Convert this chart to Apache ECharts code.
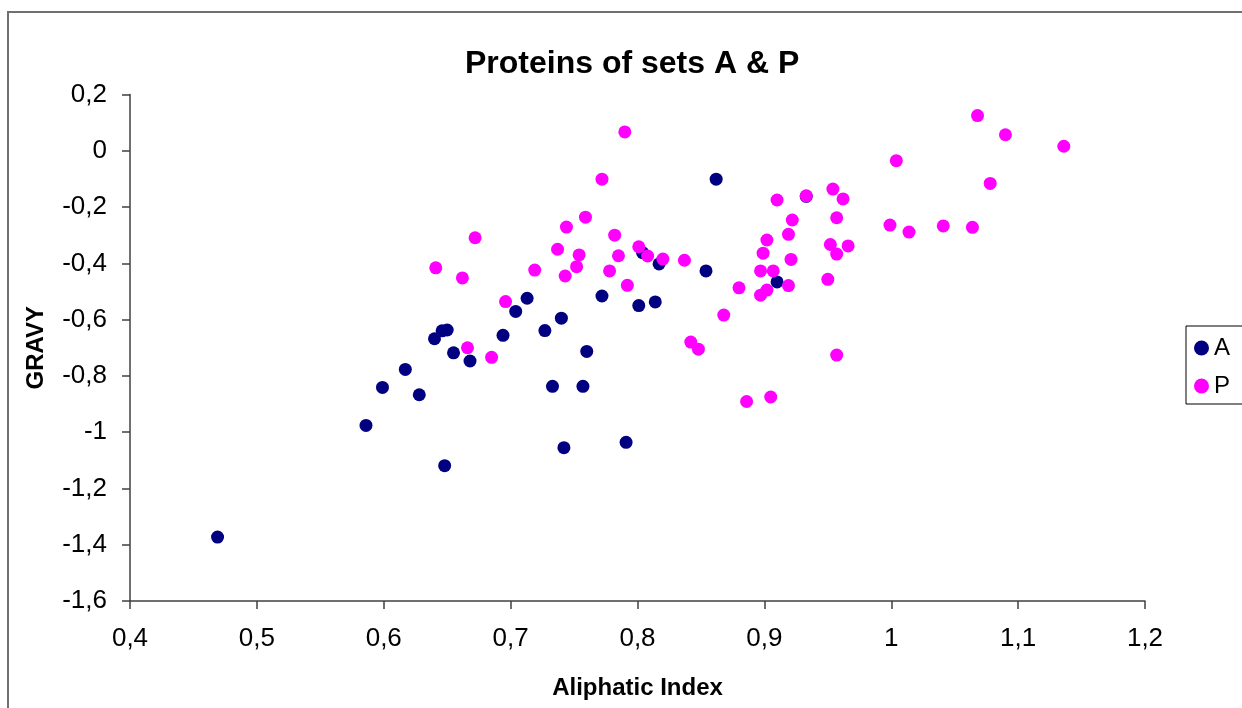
<!DOCTYPE html>
<html><head><meta charset="utf-8">
<script src="https://cdn.jsdelivr.net/npm/echarts@6/dist/echarts.min.js"></script>
<style>html,body{margin:0;padding:0;background:#fff}#c{width:1242px;height:708px}</style>
</head><body><div id="c"></div>
<script>
const seriesNames = ['A', 'P'];
const aX = [0.469,0.586,0.599,0.617,0.628,0.640,0.646,0.650,0.655,0.668,0.648,0.694,0.704,0.713,0.727,0.733,0.740,0.742,0.757,0.760,0.772,0.791,0.801,0.804,0.814,0.817,0.854,0.862,0.910,0.933];
const aY = [-1.373,-0.976,-0.841,-0.777,-0.867,-0.668,-0.640,-0.637,-0.718,-0.747,-1.119,-0.656,-0.571,-0.524,-0.639,-0.837,-0.595,-1.055,-0.837,-0.713,-0.516,-1.036,-0.550,-0.362,-0.537,-0.402,-0.427,-0.101,-0.466,-0.162];
const pX = [0.641,0.662,0.672,0.666,0.685,0.696,0.719,0.737,0.744,0.743,0.752,0.754,0.759,0.772,0.778,0.782,0.785,0.790,0.792,0.801,0.808,0.820,0.837,0.842,0.848,0.868,0.880,0.886,0.897,0.897,0.899,0.902,0.902,0.905,0.907,0.910,0.919,0.919,0.921,0.922,0.933,0.950,0.952,0.954,0.957,0.957,0.957,0.962,0.966,0.999,1.004,1.014,1.041,1.064,1.068,1.078,1.090,1.136];
const pY = [-0.416,-0.452,-0.309,-0.700,-0.734,-0.536,-0.424,-0.350,-0.271,-0.445,-0.412,-0.370,-0.236,-0.101,-0.427,-0.300,-0.373,0.067,-0.478,-0.341,-0.374,-0.385,-0.389,-0.680,-0.705,-0.584,-0.487,-0.891,-0.427,-0.513,-0.364,-0.495,-0.317,-0.875,-0.427,-0.175,-0.479,-0.297,-0.386,-0.246,-0.160,-0.457,-0.333,-0.136,-0.238,-0.367,-0.726,-0.171,-0.338,-0.264,-0.035,-0.289,-0.267,-0.272,0.125,-0.116,0.057,0.016];
const xTicks = ['0,4','0,5','0,6','0,7','0,8','0,9','1','1,1','1,2'];
const yTicks = ['0,2','0','-0,2','-0,4','-0,6','-0,8','-1','-1,2','-1,4','-1,6'];

const zip = (xs, ys) => xs.map((x, i) => [x, ys[i]]);
const font = '"Liberation Sans", Arial, sans-serif';
const chart = echarts.init(document.getElementById('c'));
chart.setOption({
  animation: false,
  backgroundColor: '#fff',
  graphic: [{type:'rect', shape:{x:8, y:12, width:1400, height:900}, style:{fill:'none', stroke:'#707070', lineWidth:2}, silent:true, z:-1}],
  title: {text: 'Proteins of sets A & P', left: 460, top: 43,
    textStyle: {fontFamily: font, fontSize: 32, fontWeight: 'bold', color: '#000'}},
  legend: {orient: 'vertical', left: 1186, top: 326, data: seriesNames,
    borderColor: '#000', borderWidth: 1, padding: [10, 40, 6, 8], itemGap: 14,
    itemWidth: 15, itemHeight: 15, icon: 'circle',
    textStyle: {fontFamily: font, fontSize: 24, color: '#000'}},
  grid: {left: 130, right: 97, top: 94.5, bottom: 107},
  xAxis: {type: 'value', min: 0.4, max: 1.2, interval: 0.1,
    name: 'Aliphatic Index', nameLocation: 'middle', nameGap: 75,
    nameTextStyle: {fontFamily: font, fontSize: 24, fontWeight: 'bold', color: '#000'},
    axisLine: {onZero: false, lineStyle: {color: '#404040', width: 1.5}},
    axisTick: {length: 8, lineStyle: {color: '#404040', width: 1.5}},
    splitLine: {show: false},
    axisLabel: {fontFamily: font, fontSize: 26, color: '#000', margin: 25,
      formatter: v => xTicks[Math.round((v - 0.4) / 0.1)]}},
  yAxis: {type: 'value', min: -1.6, max: 0.2, interval: 0.2,
    name: 'GRAVY', nameLocation: 'middle', nameGap: 82, nameRotate: 90,
    nameTextStyle: {fontFamily: font, fontSize: 24, fontWeight: 'bold', color: '#000'},
    axisLine: {show: true, onZero: false, lineStyle: {color: '#404040', width: 1.5}},
    axisTick: {show: true, length: 8, lineStyle: {color: '#404040', width: 1.5}},
    splitLine: {show: false},
    axisLabel: {fontFamily: font, fontSize: 26, color: '#000', margin: 23,
      formatter: v => yTicks[Math.round((0.2 - v) / 0.2)]}},
  series: [
    {name: 'A', type: 'scatter', data: zip(aX, aY), symbol: 'circle', symbolSize: 13,
      itemStyle: {color: '#000080', opacity: 1}},
    {name: 'P', type: 'scatter', data: zip(pX, pY), symbol: 'circle', symbolSize: 13,
      itemStyle: {color: '#FF00FF', opacity: 1}}
  ]
});
</script></body></html>
